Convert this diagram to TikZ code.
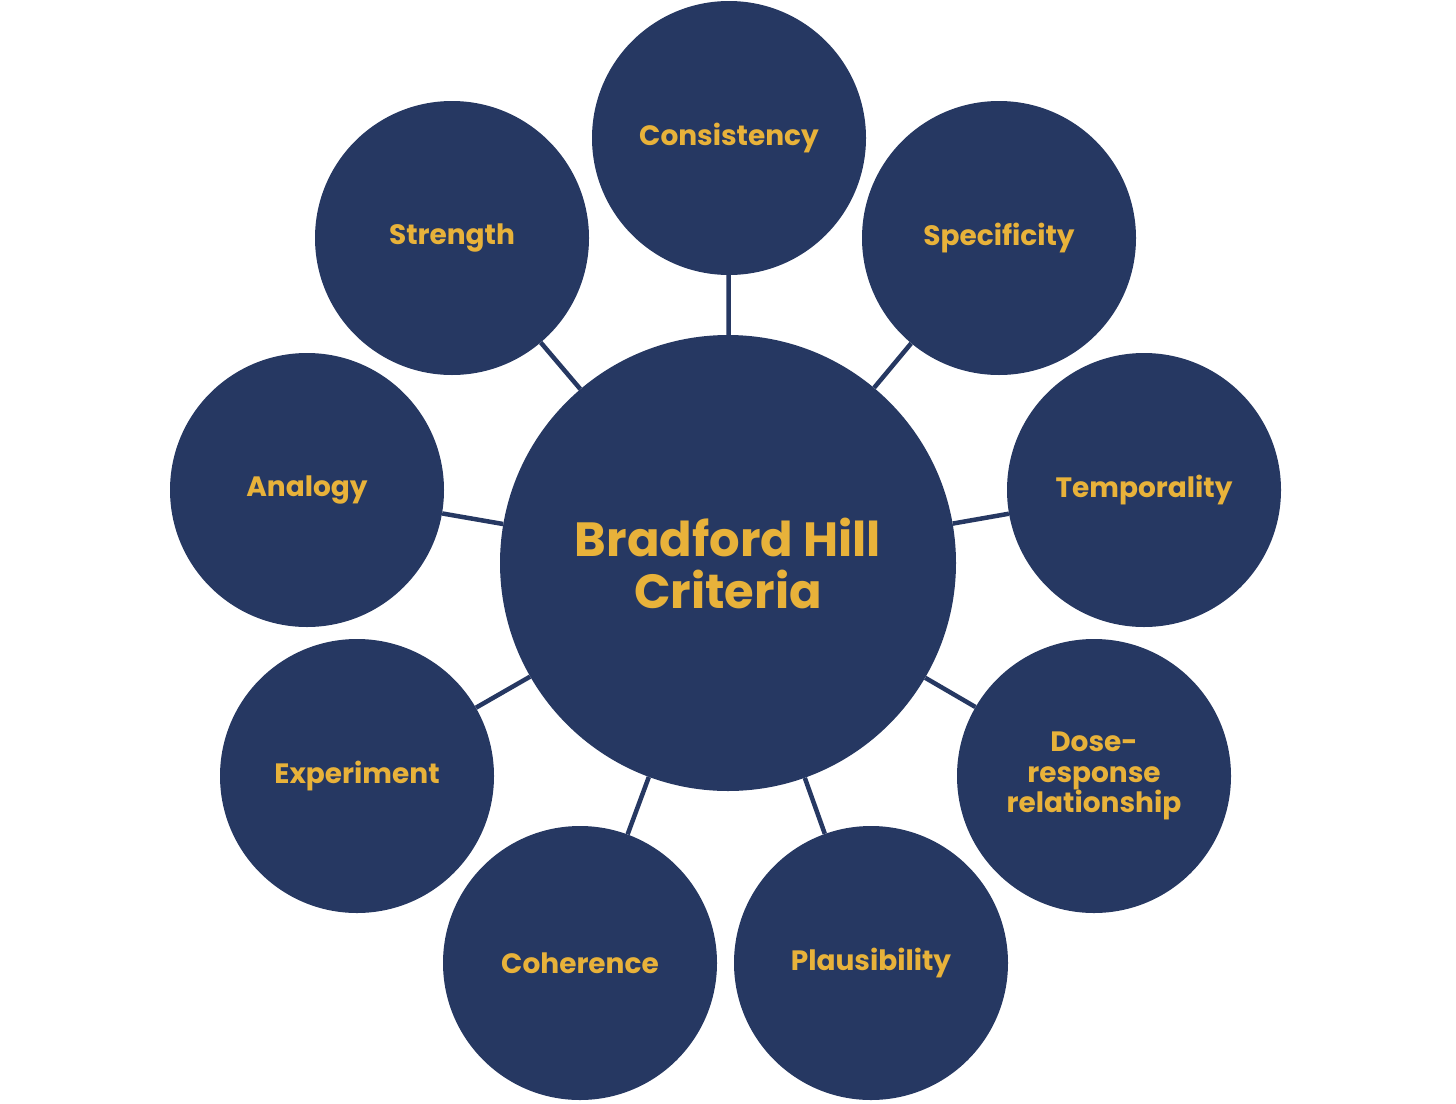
\documentclass[tikz,border=0pt]{standalone}
\usepackage{fontspec}
\setmainfont{Poppins}
\usepackage{tikz}
\definecolor{navy}{HTML}{263862}
\definecolor{gold}{HTML}{E8B23A}

\begin{document}
\begin{tikzpicture}[x=1pt, y=-1pt,
    cnode/.style={fill=navy, circle, minimum size=456pt, inner sep=0pt, text=gold, font=\fontsize{48}{52}\selectfont\bfseries, align=center},
    onode/.style={fill=navy, circle, minimum size=274pt, inner sep=0pt, text=gold, font=\fontsize{28}{30.5}\selectfont\bfseries, align=center},
    link/.style={draw=navy, line width=4.5pt}]
    \useasboundingbox (0, 0) rectangle (1456, 1103);

    \node[cnode] (bh) at (728, 563) {Bradford Hill\\Criteria};

    \node[onode] (cons) at (729, 138) {Consistency};
    \node[onode] (spec) at (999, 238) {Specificity};
    \node[onode] (temp) at (1144, 490) {Temporality};
    \node[onode] (dose) at (1094, 776) {Dose-\\response\\relationship};
    \node[onode] (plau) at (871, 963) {Plausibility};
    \node[onode] (cohe) at (580, 963) {Coherence};
    \node[onode] (expe) at (357, 776) {Experiment};
    \node[onode] (anal) at (307, 490) {Analogy};
    \node[onode] (stre) at (452, 238) {Strength};

    \draw[link] (bh) -- (cons);
    \draw[link] (bh) -- (spec);
    \draw[link] (bh) -- (temp);
    \draw[link] (bh) -- (dose);
    \draw[link] (bh) -- (plau);
    \draw[link] (bh) -- (cohe);
    \draw[link] (bh) -- (expe);
    \draw[link] (bh) -- (anal);
    \draw[link] (bh) -- (stre);
\end{tikzpicture}
\end{document}
